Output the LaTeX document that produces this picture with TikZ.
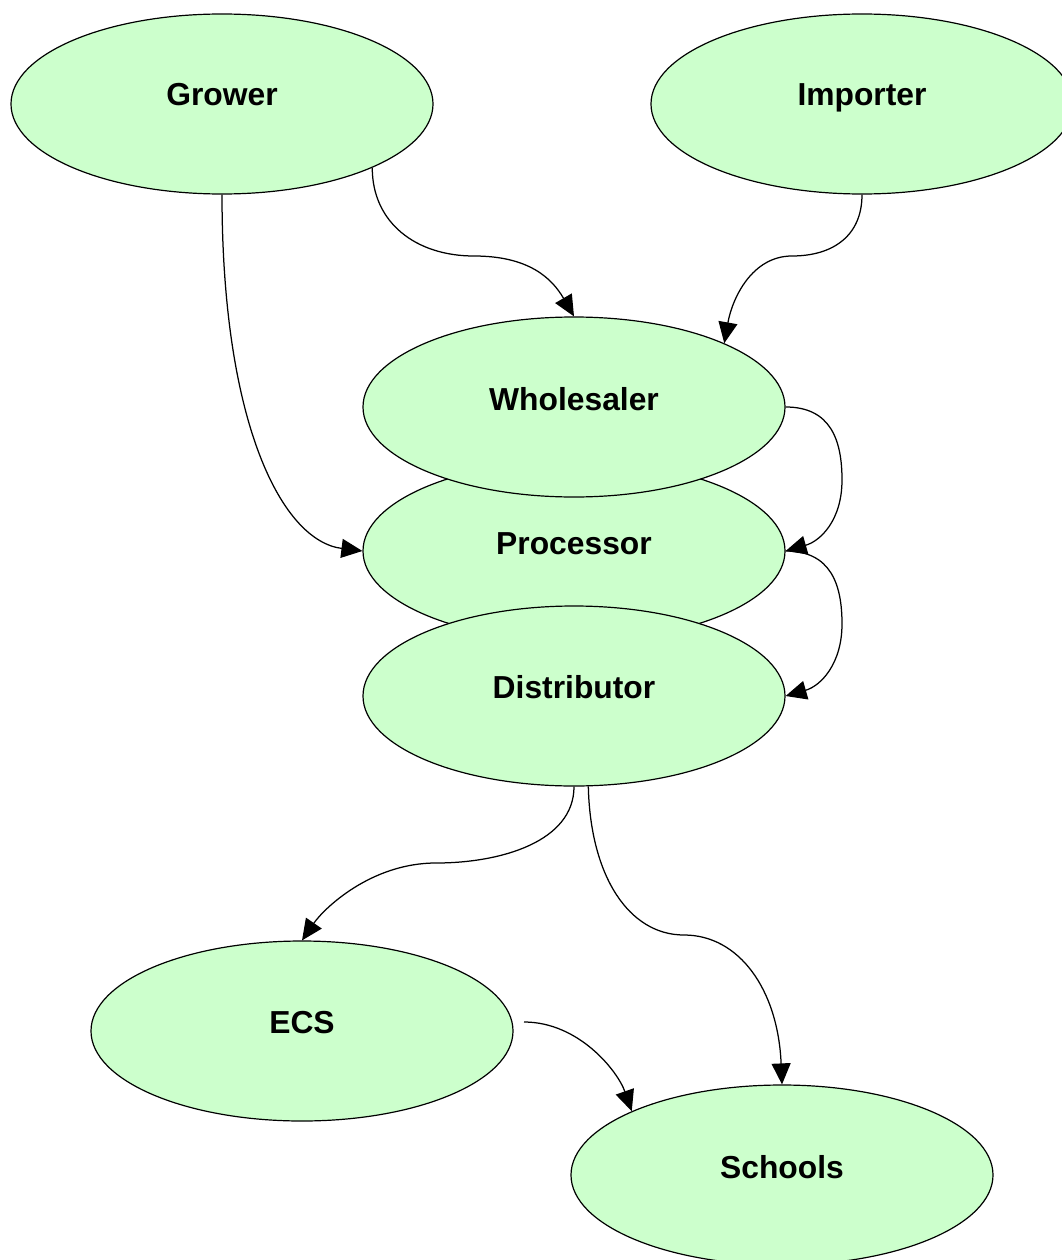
\documentclass[tikz,border=0pt]{standalone}
\usepackage{fontspec}
\setmainfont{Liberation Sans}
\usetikzlibrary{shapes.geometric,arrows.meta}
\definecolor{nodefill}{HTML}{CCFFCC}
\begin{document}
\begin{tikzpicture}[x=1pt,y=-1pt,
  ell/.style={ellipse, draw=black, fill=nodefill, line width=1.2pt, minimum width=422pt, minimum height=180pt, inner sep=0pt},
  lbl/.style={anchor=base, font=\fontsize{31.8}{36}\selectfont\bfseries, inner sep=0pt},
  conn/.style={draw=black, line width=1.25pt, -{Triangle[length=21pt,width=19pt]}}]
\useasboundingbox (0,0) rectangle (1062,1260);
% ellipses
\node[ell] (gro) at (222,104) {};
\node[ell] (imp) at (862,104) {};
\node[ell] (pro) at (574,551) {};
\node[ell] (who) at (574,407) {};
\node[ell] (dis) at (574,696) {};
\node[ell] (ecs) at (302,1031) {};
\node[ell] (sch) at (782,1175) {};
% labels
\node[lbl] (groT) at (222,106) {Grower};
\node[lbl] (impT) at (862,106) {Importer};
\node[lbl] (whoT) at (574,410) {Wholesaler};
\node[lbl] (proT) at (574,554) {Processor};
\node[lbl] (disT) at (574,698) {Distributor};
\node[lbl] (ecsT) at (302,1033) {ECS};
\node[lbl] (schT) at (782,1178) {Schools};
% helper coordinates
\coordinate (m1) at (474,256);
\coordinate (m2) at (792,256);
\coordinate (m3) at (842,480);
\coordinate (m4) at (842,624);
\coordinate (m5) at (436,863);
\coordinate (m6) at (684,935);
\coordinate (ecsout) at (524,1022);
% connectors
\draw[conn] (gro.-23) .. controls +(0,55) and +(-58,0) .. (m1) .. controls +(55,0) and +(-22,-38) .. (who.north);
\draw[conn] (imp.south) .. controls +(0,42) and +(40,0) .. (m2) .. controls +(-40,0) and +(8,-45) .. (who.23);
\draw[conn] (gro.south) .. controls +(0,230) and +(-80,-10) .. (pro.west);
\draw[conn] (who.east) .. controls +(45,0) and +(0,-40) .. (m3) .. controls +(0,40) and +(35,-10) .. (pro.east);
\draw[conn] (pro.east) .. controls +(45,0) and +(0,-40) .. (m4) .. controls +(0,40) and +(35,-10) .. (dis.east);
\draw[conn] (dis.south) .. controls +(0,55) and +(65,0) .. (m5) .. controls +(-65,0) and +(22,-32) .. (ecs.north);
\draw[conn] (dis.-81) .. controls +(2,90) and +(-55,0) .. (m6) .. controls +(55,0) and +(-4,-95) .. (sch.north);
\draw[conn] (ecsout) .. controls +(55,0) and +(-14,-40) .. (sch.157);
\end{tikzpicture}
\end{document}
